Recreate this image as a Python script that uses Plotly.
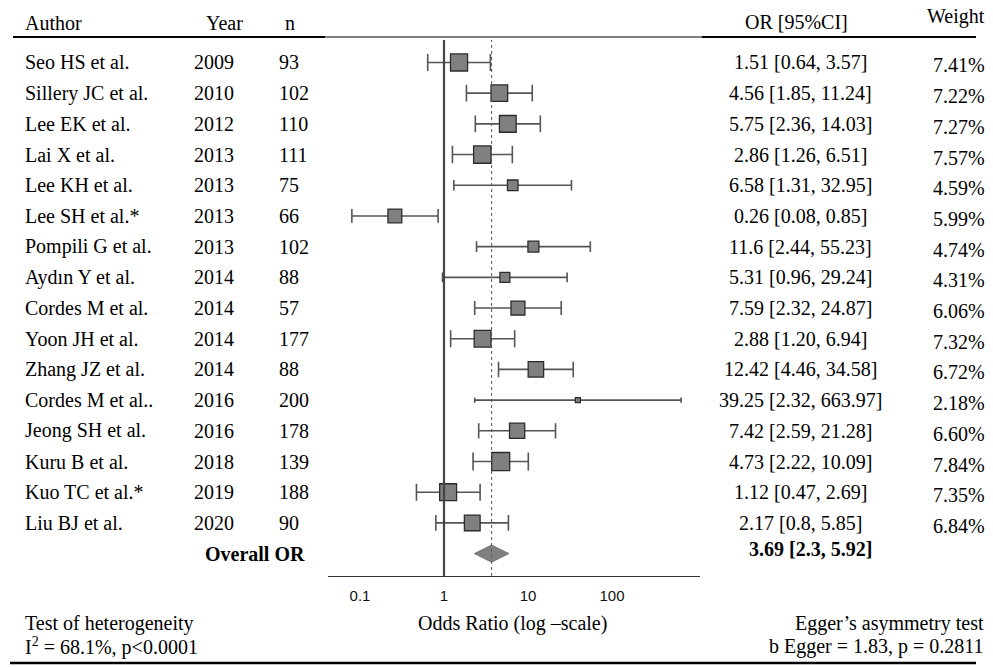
import plotly.graph_objects as go

authors = ["Seo HS et al.", "Sillery JC et al.", "Lee EK et al.", "Lai X et al.", "Lee KH et al.",
           "Lee SH et al.*", "Pompili G et al.", "Aydın Y et al.", "Cordes M et al.", "Yoon JH et al.",
           "Zhang JZ et al.", "Cordes M et al..", "Jeong SH et al.", "Kuru B et al.", "Kuo TC et al.*",
           "Liu BJ et al."]
years = [2009, 2010, 2012, 2013, 2013, 2013, 2013, 2014, 2014, 2014, 2014, 2016, 2016, 2018, 2019, 2020]
n_vals = [93, 102, 110, 111, 75, 66, 102, 88, 57, 177, 88, 200, 178, 139, 188, 90]
or_vals = [1.51, 4.56, 5.75, 2.86, 6.58, 0.26, 11.6, 5.31, 7.59, 2.88, 12.42, 39.25, 7.42, 4.73, 1.12, 2.17]
ci_low = [0.64, 1.85, 2.36, 1.26, 1.31, 0.08, 2.44, 0.96, 2.32, 1.20, 4.46, 2.32, 2.59, 2.22, 0.47, 0.8]
ci_high = [3.57, 11.24, 14.03, 6.51, 32.95, 0.85, 55.23, 29.24, 24.87, 6.94, 34.58, 663.97, 21.28, 10.09, 2.69, 5.85]
ci_low_txt = ["0.64", "1.85", "2.36", "1.26", "1.31", "0.08", "2.44", "0.96", "2.32", "1.20", "4.46",
              "2.32", "2.59", "2.22", "0.47", "0.8"]
weights = [7.41, 7.22, 7.27, 7.57, 4.59, 5.99, 4.74, 4.31, 6.06, 7.32, 6.72, 2.18, 6.60, 7.84, 7.35, 6.84]
overall_or = 3.69
overall_low = 2.3
overall_high = 5.92
tick_vals = [0.1, 1, 10, 100]
tick_text = ["0.1", "1", "10", "100"]

W, H = 993, 667
SERIF = "Liberation Serif"
FS = 20


def px(x):
    return x / W


def py(y):
    return 1 - y / H


fig = go.Figure()
rows = list(range(len(authors)))
overall_row = len(authors)

for i in rows:
    s = 2.3 * weights[i]
    fig.add_trace(go.Scatter(
        x=[or_vals[i]], y=[i], mode="markers",
        marker=dict(symbol="square", size=s, color="#808080", line=dict(color="#2b2b2b", width=1.3)),
        error_x=dict(type="data", symmetric=False,
                     array=[ci_high[i] - or_vals[i]], arrayminus=[or_vals[i] - ci_low[i]],
                     color="#555555", thickness=1.6, width=s / 2),
        showlegend=False, hoverinfo="skip"))

# overall diamond
dh = 0.28
fig.add_trace(go.Scatter(
    x=[overall_low, overall_or, overall_high, overall_or, overall_low],
    y=[overall_row, overall_row - dh, overall_row, overall_row + dh, overall_row],
    mode="lines", fill="toself", fillcolor="#808080", line=dict(color="#7a7a7a", width=1),
    showlegend=False, hoverinfo="skip"))

y_dom = [py(576), py(37)]
shapes = [
    dict(type="line", xref="x", yref="paper", x0=1, x1=1, y0=y_dom[0], y1=py(40),
         line=dict(color="#444444", width=2.2)),
    dict(type="line", xref="x", yref="paper", x0=overall_or, x1=overall_or, y0=y_dom[0], y1=py(40),
         line=dict(color="#555555", width=1, dash="dot")),
    dict(type="line", xref="paper", yref="paper", x0=px(13), x1=px(325), y0=py(37), y1=py(37),
         line=dict(color="black", width=2.2)),
    dict(type="line", xref="paper", yref="paper", x0=px(325), x1=px(702), y0=py(37), y1=py(37),
         line=dict(color="black", width=1)),
    dict(type="line", xref="paper", yref="paper", x0=px(702), x1=px(976), y0=py(37), y1=py(37),
         line=dict(color="black", width=2.2)),
    dict(type="line", xref="paper", yref="paper", x0=px(10), x1=px(976), y0=py(663), y1=py(663),
         line=dict(color="black", width=2.5)),
]

ann = []


def txt(text, x, y, xanchor="left", yref="paper", bold=False, size=FS, yshift=0):
    ann.append(dict(text=("<b>%s</b>" % text) if bold else text, x=px(x), xref="paper",
                    y=y if yref == "y" else py(y), yref=yref,
                    xanchor=xanchor, yanchor="middle", showarrow=False, yshift=yshift,
                    font=dict(family=SERIF, size=size, color="black")))


# headers
txt("Author", 23, 23)
txt("Year", 224, 23, "center")
txt("n", 290, 23, "center")
txt("OR [95%CI]", 796, 22, "center")
txt("Weight", 987, 17, "right")

for i in rows:
    txt(authors[i], 23, i, yref="y")
    txt(str(years[i]), 192, i, yref="y")
    txt(str(n_vals[i]), 277, i, yref="y")
    txt("%s [%s, %s]" % (or_vals[i], ci_low_txt[i], ci_high[i]), 800, i, "center", yref="y")
    txt("%.2f%%" % weights[i], 987, i, "right", yref="y", yshift=-3)

txt("Overall OR", 307, overall_row, "right", yref="y", bold=True)
txt("%s [%s, %s]" % (overall_or, overall_low, overall_high), 810, overall_row, "center", yref="y",
    bold=True, yshift=5)

txt("Odds Ratio (log –scale)", 512, 623, "center")
txt("Test of heterogeneity", 23, 623)
txt("I<sup>2</sup> = 68.1%, p&lt;0.0001", 23, 646)
txt("Egger’s asymmetry test", 986, 623, "right")
txt("b Egger = 1.83, p = 0.2811", 986, 646, "right")

fig.update_layout(
    width=W, height=H, margin=dict(l=0, r=0, t=0, b=0),
    paper_bgcolor="white", plot_bgcolor="white",
    shapes=shapes, annotations=ann, showlegend=False,
    xaxis=dict(type="log", range=[-1.381, 3.048], domain=[px(328), px(700)],
               showline=True, linecolor="#333333", linewidth=1.2, showgrid=False, zeroline=False,
               tickvals=tick_vals, ticktext=tick_text, ticks="outside", ticklen=6,
               tickcolor="rgba(0,0,0,0)", tickfont=dict(family="Liberation Sans", size=15, color="#111111"),
               fixedrange=True),
    yaxis=dict(range=[16.73, -0.83], domain=y_dom, visible=False, fixedrange=True),
)

fig.write_html("out.html")
